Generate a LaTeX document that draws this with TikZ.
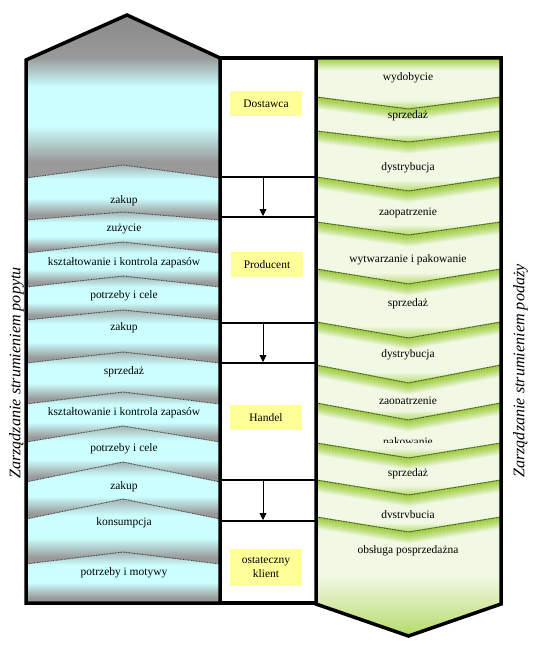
\documentclass[tikz,border=0pt]{standalone}
\usepackage{fontspec}
\setmainfont{Liberation Serif}
\usetikzlibrary{arrows.meta}
\definecolor{lcyan}{HTML}{CCFFFF}
\definecolor{lgrey}{HTML}{999999}
\definecolor{lgreytop}{HTML}{A4B4B4}
\definecolor{rgreen}{HTML}{99CC33}
\definecolor{rgreenbot}{HTML}{B4DA6A}
\definecolor{rpale}{HTML}{F1F8E3}
\definecolor{yel}{HTML}{FFFF99}
\pgfdeclareverticalshading{lband}{100bp}{color(0bp)=(lgrey); color(25bp)=(lgrey); color(30bp)=(lgrey); color(45bp)=(lcyan); color(62bp)=(lcyan); color(75bp)=(lgreytop); color(100bp)=(lgreytop)}
\pgfdeclareverticalshading{ltop}{100bp}{color(0bp)=(lgrey); color(25bp)=(lgrey); color(30bp)=(lgrey); color(41bp)=(lcyan); color(53bp)=(lcyan); color(62bp)=(lgrey); color(75bp)=(lgrey!90!black); color(100bp)=(lgrey!90!black)}
\pgfdeclareverticalshading{rband}{100bp}{color(0bp)=(rgreenbot); color(25bp)=(rgreenbot); color(34bp)=(rpale); color(75bp)=(rpale); color(100bp)=(rpale)}
\pgfdeclareverticalshading{rlast}{100bp}{color(0bp)=(rgreenbot); color(25bp)=(rgreenbot); color(50bp)=(rpale); color(75bp)=(rpale); color(100bp)=(rpale)}
\newcommand\Lband[4]{\shade[shading=lband] (26,#1) -- (123,#2) -- (220,#1) -- (220,#3) -- (123,#4) -- (26,#3) -- cycle;}
\newcommand\Lbound[2]{\draw[bnd] (26,#1) -- (123,#2) -- (220,#1);}
\newcommand\Rband[5][rband]{\shade[shading=#1] (316,#2) -- (408.5,#3) -- (501,#2) -- (501,#4) -- (408.5,#5) -- (316,#4) -- cycle;}
\newcommand\Rstripe[2]{\foreach \i [evaluate=\i as \op using {0.95*(1-\i/12)}] in {0,...,11}{\draw[rgreen, line width=1.25bp, draw opacity=\op] (316,#1+\i) -- (408.5,#2+\i) -- (501,#1+\i);}}
\newcommand\Rbound[2]{\draw[bnd] (316,#1) -- (408.5,#2) -- (501,#1);}
\begin{document}
\begin{tikzpicture}[x=1bp,y=-1bp,
  lab/.style={font=\fontsize{11.5}{13.5}\selectfont, inner sep=0pt},
  ybox/.style={lab, fill=yel, minimum width=72bp, minimum height=25bp, align=center},
  bnd/.style={line width=0.9bp, black!75, dash pattern=on 0.9bp off 0.7bp},
  outl/.style={line width=3.5bp, line join=miter},
  midl/.style={line width=2bp},
  arr/.style={line width=0.8bp, -{Triangle[width=7bp,length=7bp]}},
  side/.style={font=\itshape\fontsize{16.2}{18}\selectfont, inner sep=0pt, rotate=90}]
\useasboundingbox (0,0) rectangle (535,652);
% ---------- left column bands ----------
\shade[shading=ltop] (26,60) -- (127,15) -- (220,58) -- (220,178) -- (123,165) -- (26,178) -- cycle;
\Lband{178}{165}{220}{212}
\Lband{220}{212}{253}{242}
\Lband{253}{242}{287}{276}
\Lband{287}{276}{320}{310}
\Lband{320}{310}{363}{352}
\Lband{363}{352}{404}{392}
\Lband{404}{392}{442}{426}
\Lband{442}{426}{482}{462}
\Lband{482}{462}{519}{499}
\Lband{519}{499}{564}{552}
\Lband{564}{552}{603}{603}
\Lbound{178}{165}
\Lbound{220}{212}
\Lbound{253}{242}
\Lbound{287}{276}
\Lbound{320}{310}
\Lbound{363}{352}
\Lbound{404}{392}
\Lbound{442}{426}
\Lbound{482}{462}
\Lbound{519}{499}
\Lbound{564}{552}
% ---------- right column bands ----------
\Rband{58}{58}{97}{109}
\Rband{97}{109}{131}{142}
\Rband{131}{142}{177}{191}
\Rband{177}{191}{222}{235}
\Rband{222}{235}{269}{284}
\Rband{269}{284}{322}{338}
\Rband{322}{338}{365}{383}
\Rband{365}{383}{403}{420}
\Rband{403}{420}{443}{458}
\Rband{443}{458}{480}{495}
\Rband{480}{495}{517}{532}
\Rband[rlast]{517}{532}{604}{636}
\Rstripe{58.5}{58.5}
\Rstripe{97}{109}
\Rstripe{131}{142}
\Rstripe{177}{191}
\Rstripe{222}{235}
\Rstripe{269}{284}
\Rstripe{322}{338}
\Rstripe{365}{383}
\Rstripe{403}{420}
\Rstripe{443}{458}
\Rstripe{480}{495}
\Rstripe{517}{532}
\Rbound{97}{109}
\Rbound{131}{142}
\Rbound{177}{191}
\Rbound{222}{235}
\Rbound{269}{284}
\Rbound{322}{338}
\Rbound{365}{383}
\Rbound{403}{420}
\Rbound{443}{458}
\Rbound{480}{495}
\Rbound{517}{532}
% ---------- left labels ----------
\node[lab] (l1) at (124,201) {zakup};
\node[lab] (l2) at (124,229) {zużycie};
\node[lab] (l3) at (124,263) {kształtowanie i kontrola zapasów};
\node[lab] (l4) at (124,296) {potrzeby i cele};
\node[lab] (l5) at (124,328) {zakup};
\node[lab] (l6) at (124,372) {sprzedaż};
\node[lab] (l7) at (124,413) {kształtowanie i kontrola zapasów};
\node[lab] (l8) at (124,449) {potrzeby i cele};
\node[lab] (l9) at (124,487) {zakup};
\node[lab] (l10) at (124,523) {konsumpcja};
\node[lab] (l11) at (124,573) {potrzeby i motywy};
% ---------- right labels ----------
\node[lab] (r1) at (408,77.5) {wydobycie};
\node[lab] (r2) at (408,116) {sprzedaż};
\node[lab] (r3) at (408,168) {dystrybucja};
\node[lab] (r4) at (408,213) {zaopatrzenie};
\node[lab] (r5) at (408,259.5) {wytwarzanie i pakowanie};
\node[lab] (r6) at (408,304) {sprzedaż};
\node[lab] (r7) at (408,355) {dystrybucja};
\begin{scope}
  \clip (316,380) rectangle (501,403.8);
  \node[lab, anchor=base] (r8) at (408,404.8) {zaopatrzenie};
\end{scope}
\begin{scope}
  \clip (316,425) rectangle (501,442.4);
  \node[lab, anchor=base] (r9) at (408,445.3) {pakowanie};
\end{scope}
\node[lab] (r10) at (408,474) {sprzedaż};
\begin{scope}
  \clip (316,500) rectangle (501,517.3);
  \node[lab, anchor=base] (r11) at (408,518.6) {dystrybucja};
\end{scope}
\node[lab] (r12) at (408,551) {obsługa posprzedażna};
% ---------- middle column ----------
\draw[midl] (220,177) -- (316,177);
\draw[midl] (220,217) -- (316,217);
\draw[midl] (220,323) -- (316,323);
\draw[midl] (220,363) -- (316,363);
\draw[midl] (220,480) -- (316,480);
\draw[midl] (220,521) -- (316,521);
\coordinate (a1s) at (263,178);
\coordinate (a1e) at (263,216);
\coordinate (a2s) at (263,324);
\coordinate (a2e) at (263,362);
\coordinate (a3s) at (263,481);
\coordinate (a3e) at (263,520);
\draw[arr] (a1s) -- (a1e);
\draw[arr] (a2s) -- (a2e);
\draw[arr] (a3s) -- (a3e);
\node[ybox] (dost) at (266,103.5) {Dostawca};
\node[ybox] (prod) at (267,264.5) {Producent};
\node[ybox] (hand) at (266,417.5) {Handel};
\node[ybox, minimum height=37bp] (klient) at (266,567.5) {ostateczny\\klient};
% ---------- outlines ----------
\draw[outl] (26,603) -- (26,60) -- (127,15) -- (220,58) -- (220,603) -- cycle;
\draw[outl] (220,58) -- (316,58);
\draw[outl] (220,603) -- (316,603);
\draw[outl] (316,58) -- (501,58) -- (501,604) -- (408.5,636) -- (316,604) -- cycle;
% ---------- side titles ----------
\node[side] (tl) at (16.5,373) {Zarządzanie strumieniem popytu};
\node[side] (tr) at (520.5,371) {Zarządzanie strumieniem podaży};
\end{tikzpicture}
\end{document}
